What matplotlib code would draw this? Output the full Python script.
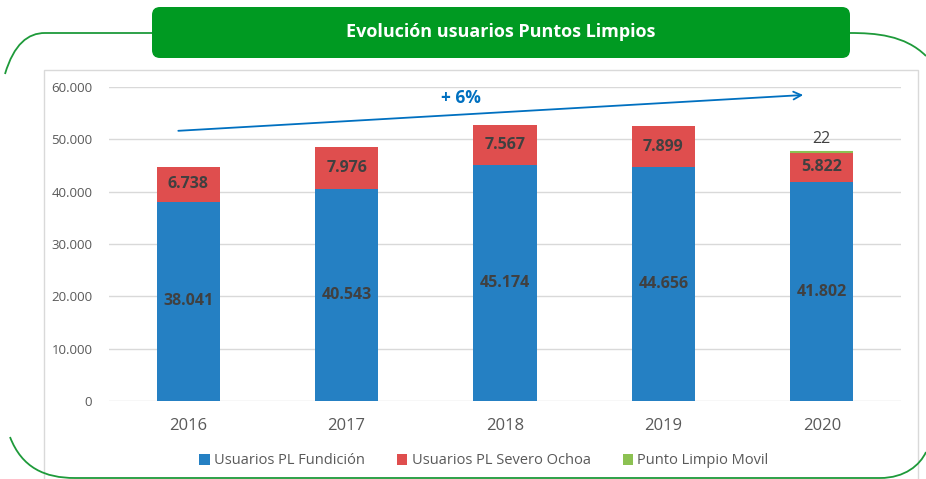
import matplotlib.pyplot as plt
from matplotlib.patches import FancyBboxPatch, Rectangle, PathPatch
from matplotlib.path import Path
from matplotlib.ticker import FuncFormatter

years = ['2016', '2017', '2018', '2019', '2020']
fundicion = [38041, 40543, 45174, 44656, 41802]
severo_ochoa = [6738, 7976, 7567, 7899, 5822]
movil = [0, 0, 0, 0, 22]
series_names = ['Usuarios PL Fundición', 'Usuarios PL Severo Ochoa', 'Punto Limpio Movil']
growth_label = '+ 6%'

plt.rcParams['font.family'] = ['Open Sans', 'DejaVu Sans']

W, H = 926, 479
fig = plt.figure(figsize=(W / 100, H / 100), dpi=100)

# background decoration in pixel coordinates
bg = fig.add_axes([0, 0, 1, 1])
bg.set_xlim(0, W)
bg.set_ylim(H, 0)
bg.axis('off')

bg.add_patch(Rectangle((44, 70), 874, 420, facecolor='white', edgecolor='#d9d9d9', lw=1))

green = '#1e9a3a'
outline = [
    [(5, 74), (14, 44), (28, 33), (45, 33), (152, 33)],
    [(850, 33), (875, 33), (905, 35), (926, 56), None],
    [(10, 437), (22, 468), (45, 478), (75, 478), (880, 478)],
    [(880, 478), (905, 478), (920, 465), (926, 452), None],
]
for pts in outline:
    verts = [p for p in pts if p is not None]
    codes = [Path.MOVETO, Path.CURVE4, Path.CURVE4, Path.CURVE4]
    if len(verts) == 5:
        codes.append(Path.LINETO)
    bg.add_patch(PathPatch(Path(verts, codes), facecolor='none', edgecolor=green, lw=1.3))

bg.add_patch(FancyBboxPatch((152, 7), 698, 51, boxstyle='round,pad=0,rounding_size=8',
                            facecolor='#009a22', edgecolor='none'))
bg.text(501, 32, 'Evolución usuarios Puntos Limpios', color='white', fontsize=13,
        fontweight='bold', ha='center', va='center', family=['Open Sans', 'DejaVu Sans'],
        fontstretch='condensed')

# chart
ax = fig.add_axes([109 / W, 1 - 401 / H, 792 / W, 314 / H])
x = range(len(years))
bottom2 = fundicion
bottom3 = [a + b for a, b in zip(fundicion, severo_ochoa)]

b1 = ax.bar(x, fundicion, width=0.4, color='#2580c3', label=series_names[0], zorder=3)
b2 = ax.bar(x, severo_ochoa, width=0.4, bottom=bottom2, color='#df4e4e', label=series_names[1], zorder=3)
b3 = ax.bar(x, movil, width=0.4, bottom=bottom3, color='#8cc152', label=series_names[2], zorder=3,
            edgecolor=['none'] * 4 + ['#8cc152'], linewidth=1.5)

fmt = lambda v: f'{v:,.0f}'.replace(',', '.')
ax.bar_label(b1, labels=[fmt(v) for v in fundicion], label_type='center',
             fontsize=11.5, fontweight='bold', color='#404040')
ax.bar_label(b2, labels=[fmt(v) for v in severo_ochoa], label_type='center',
             fontsize=11.5, fontweight='bold', color='#404040')
ax.bar_label(b3, labels=[fmt(v) if v else '' for v in movil], padding=3,
             fontsize=11.5, color='#404040')

ax.set_xlim(-0.5, 4.5)
ax.set_ylim(0, 60000)
ax.set_yticks(range(0, 60001, 10000))
ax.yaxis.set_major_formatter(FuncFormatter(lambda v, p: fmt(v)))
ax.set_xticks(list(x))
ax.set_xticklabels(years)
ax.tick_params(axis='y', length=0, pad=12, labelsize=9.5, labelcolor='#595959')
ax.tick_params(axis='x', length=0, pad=12, labelsize=12, labelcolor='#595959')
ax.grid(axis='y', color='#d9d9d9', lw=1, zorder=0)
for s in ax.spines.values():
    s.set_visible(False)
ax.set_facecolor('none')

# growth arrow
ax.annotate('', xy=(3.9, 58500), xytext=(-0.08, 51600),
            arrowprops=dict(arrowstyle='->', color='#0070c0', lw=1.3, mutation_scale=14))
ax.text(1.72, 57900, growth_label, color='#0070c0', fontsize=12.5, fontweight='bold',
        ha='center', va='center')

fig.legend(handles=[b1, b2, b3], labels=series_names, loc='center', ncol=3,
           bbox_to_anchor=(484 / W, 1 - 461 / H), frameon=False, fontsize=10.5,
           handlelength=0.7, handleheight=0.7, handletextpad=0.3, columnspacing=2.2,
           labelcolor='#595959')

fig.savefig('out.png', dpi=100)
